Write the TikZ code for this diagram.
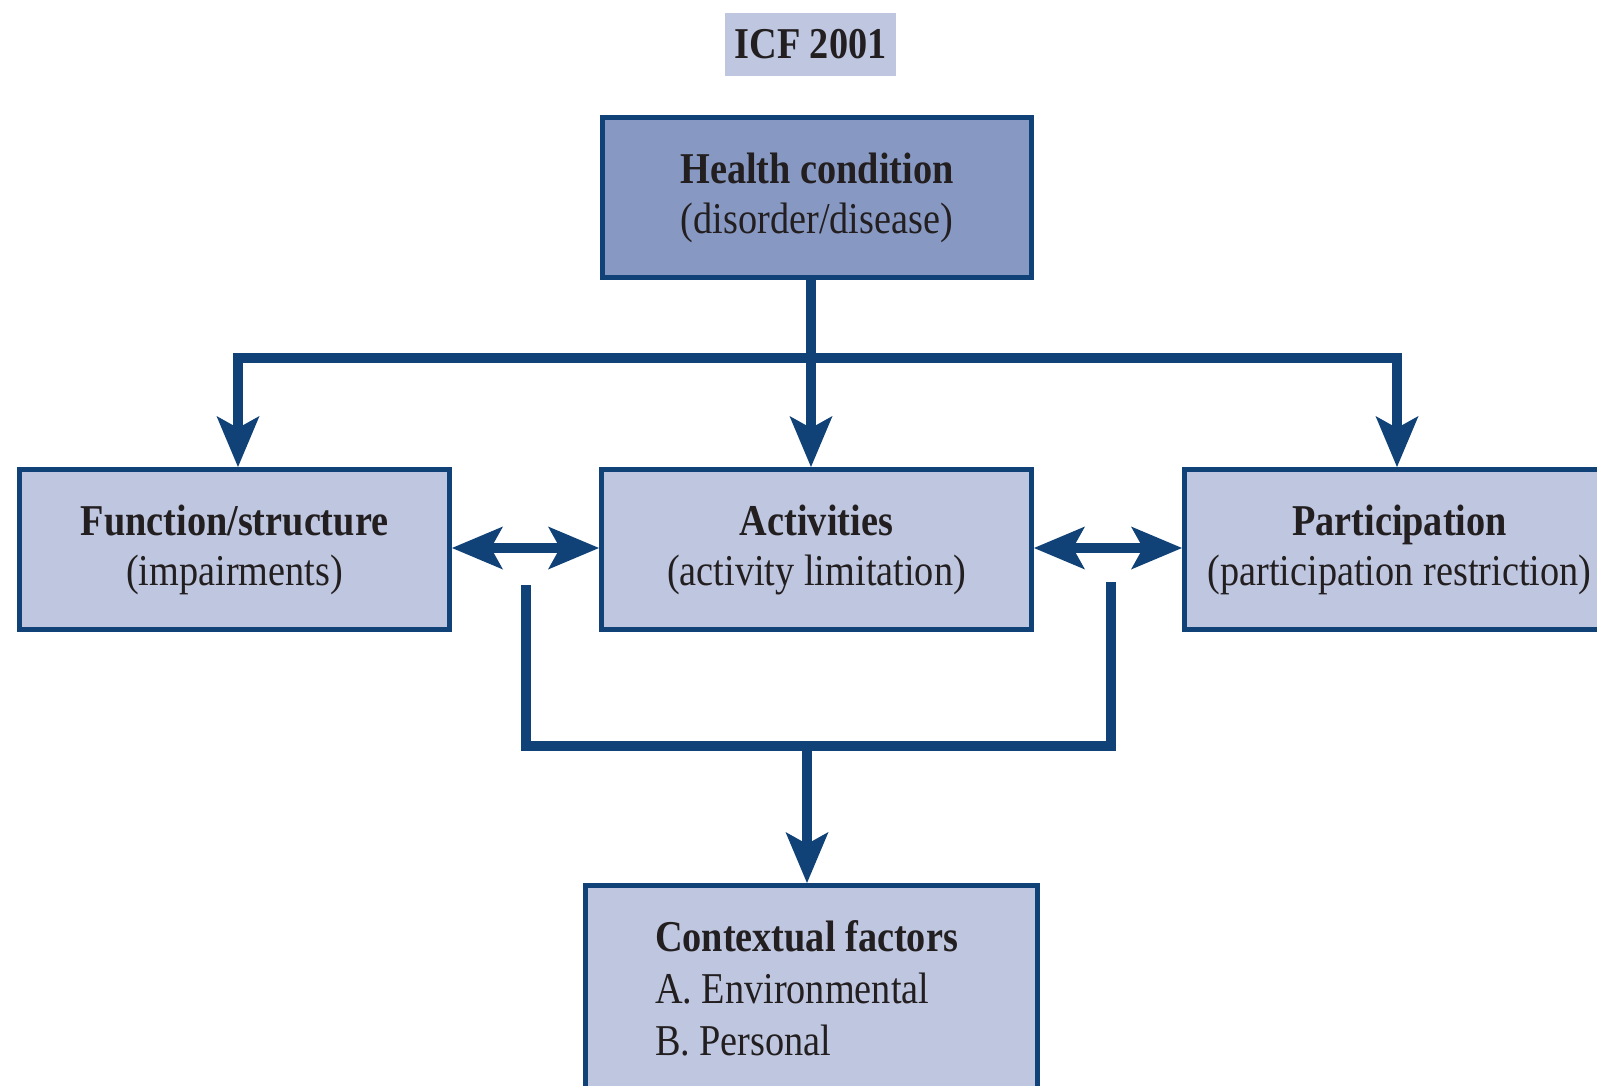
\documentclass[tikz,border=0pt]{standalone}
\usepackage{fontspec}
\setmainfont{Liberation Serif}[FakeStretch=0.87]
\usetikzlibrary{arrows.meta}

\definecolor{icfblue}{RGB}{16,66,120}
\definecolor{boxfill}{RGB}{190,198,224}
\definecolor{healthfill}{RGB}{135,153,195}
\definecolor{inkgray}{RGB}{35,31,32}

\begin{document}
\begin{tikzpicture}[x=0.5pt,y=-0.5pt,
  every node/.style={inner sep=0pt, outer sep=0pt, text=inkgray,
    font=\fontsize{22}{25}\selectfont},
  panel/.style={draw=icfblue, line width=2.5pt, fill=boxfill, outer sep=1.25pt,
    minimum width=215pt, minimum height=80pt, align=center},
  conn/.style={draw=icfblue, line width=5pt},
  headtip/.tip={Stealth[length=25.5pt, width=21.5pt, inset=6pt, line width=0pt]}]

\useasboundingbox (0,0) rectangle (1597,1086);
\clip (0,0) rectangle (1597,1086);

% title tag
\node[fill=boxfill, minimum width=85.5pt, minimum height=31.5pt,
      font=\fontsize{22}{25}\selectfont\bfseries] (title) at (810.5,44.5) {ICF 2001};

% boxes
\node[panel, fill=healthfill, minimum width=214.5pt] (hc) at (817,197.5)
  {\textbf{Health condition}\\(disorder/disease)};
\node[panel] (fs) at (234.5,549.5)
  {\textbf{Function/structure}\\(impairments)};
\node[panel] (act) at (816.5,549.5)
  {\textbf{Activities}\\(activity limitation)};
\node[panel] (pt) at (1399.5,549.5)
  {\textbf{Participation}\\(participation restriction)};
\node[panel, minimum width=226pt, minimum height=120pt] (ctx) at (811.5,1005.5) {};
\node[anchor=north west, align=left, font=\fontsize{22}{26}\selectfont] (ctxtext) at (655,921)
  {\textbf{Contextual factors}\\A. Environmental\\B. Personal};

% branching from the health condition
\coordinate (jm) at (811,358);
\coordinate (jl) at (238,358);
\coordinate (jr) at (1397,358);
\draw[conn] (hc.south -| jm) -- (jm);
\draw[conn, -headtip] (jm) -- (jl) -- (jl |- fs.north);
\draw[conn, -headtip] (jm) -- (jr) -- (jr |- pt.north);
\draw[conn, -headtip] (jm) -- (jm |- act.north);

% two-way links between the three components
\coordinate (row) at (0,548);
\draw[conn, headtip-headtip] (fs.east |- row) -- (act.west |- row);
\draw[conn, headtip-headtip] (act.east |- row) -- (pt.west |- row);

% bracket gathering into contextual factors
\coordinate (bl) at (525.5,585);
\coordinate (br) at (1111,582);
\coordinate (bj) at (807,746);
\draw[conn] (bl) |- (bj) -| (br);
\draw[conn, -headtip] (bj) -- (bj |- ctx.north);
\end{tikzpicture}
\end{document}
